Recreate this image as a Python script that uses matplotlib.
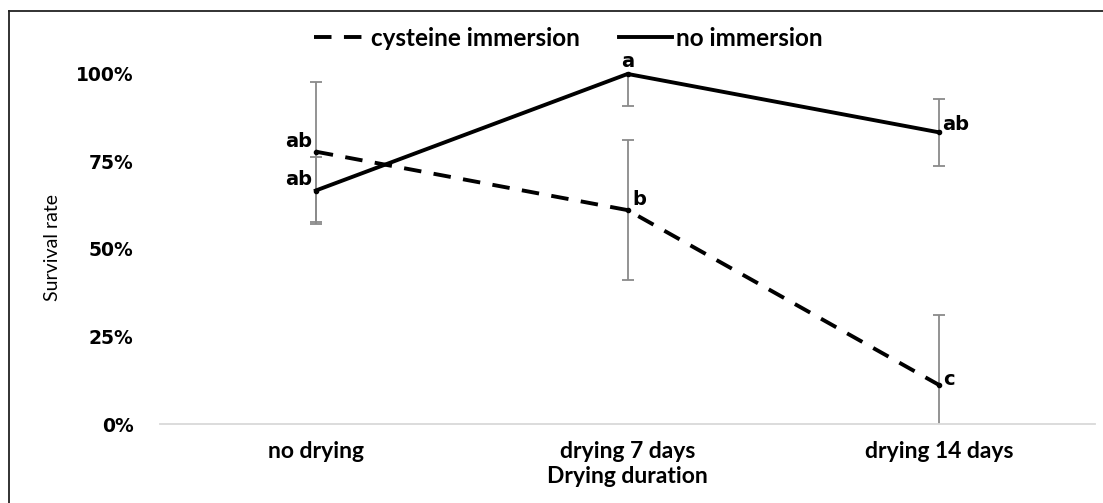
import matplotlib
matplotlib.use("Agg")
import matplotlib.pyplot as plt
from matplotlib.lines import Line2D
from matplotlib.ticker import FuncFormatter

# data
categories = ["no drying", "drying 7 days", "drying 14 days"]
cysteine = [0.778, 0.611, 0.111]
cysteine_err = [0.20, 0.20, 0.20]
no_imm = [0.667, 1.000, 0.833]
no_imm_err = [0.096, 0.093, 0.095]
cysteine_letters = ["ab", "b", "c"]
no_imm_letters = ["ab", "a", "ab"]

LABEL_FONT = "Lato"

fig = plt.figure(figsize=(11.03, 5.03), dpi=100)
ax = fig.add_axes([0.145, 0.157, 0.848, 0.696])
x = list(range(len(categories)))

ax.errorbar(x, cysteine, yerr=cysteine_err, fmt="none", ecolor="#8a8a8a",
            elinewidth=1.3, capsize=4, capthick=1.3, zorder=2)
ax.errorbar(x, no_imm, yerr=no_imm_err, fmt="none", ecolor="#8a8a8a",
            elinewidth=1.3, capsize=4, capthick=1.3, zorder=2)

ax.plot(x, cysteine, color="black", lw=2.8, dashes=(4.5, 3.2),
        label="cysteine immersion", clip_on=False, zorder=3)
ax.plot(x, no_imm, color="black", lw=2.8, label="no immersion",
        clip_on=False, zorder=3)
# small point markers (kept out of the legend)
ax.plot(x, cysteine, ls="none", marker="o", ms=3, color="black", clip_on=False, zorder=4)
ax.plot(x, no_imm, ls="none", marker="o", ms=3, color="black", clip_on=False, zorder=4)

# significance letters
lab = dict(fontsize=14, fontweight="bold", family="DejaVu Sans")
ax.text(x[0] - 0.012, cysteine[0] + 0.003, cysteine_letters[0], ha="right", va="bottom", **lab)
ax.text(x[0] - 0.012, no_imm[0] + 0.003, no_imm_letters[0], ha="right", va="bottom", **lab)
ax.text(x[1] + 0.015, cysteine[1] + 0.003, cysteine_letters[1], ha="left", va="bottom", **lab)
ax.text(x[1], no_imm[1] + 0.008, no_imm_letters[1], ha="center", va="bottom", **lab)
ax.text(x[2] + 0.008, no_imm[2] - 0.005, no_imm_letters[2], ha="left", va="bottom", **lab)
ax.text(x[2] + 0.012, cysteine[2] - 0.01, cysteine_letters[2], ha="left", va="bottom", **lab)

ax.set_xlim(-0.5, 2.5)
ax.set_ylim(0, 1.0)
ax.set_yticks([0, 0.25, 0.5, 0.75, 1.0])
ax.yaxis.set_major_formatter(FuncFormatter(lambda v, _: f"{v * 100:.0f}%"))
ax.set_xticks(x)
ax.set_xticklabels(categories, fontsize=16.5, fontweight="bold", family=LABEL_FONT)
for t in ax.get_yticklabels():
    t.set_fontsize(13.5)
    t.set_fontweight("bold")
    t.set_family("DejaVu Sans")
ax.tick_params(axis="both", length=0)
ax.tick_params(axis="y", pad=19)
ax.tick_params(axis="x", pad=12)

for s in ["top", "right", "left"]:
    ax.spines[s].set_visible(False)
ax.spines["bottom"].set_color("#d9d9d9")
ax.spines["bottom"].set_linewidth(1.3)

ax.set_xlabel("Drying duration", fontsize=16.5, fontweight="bold",
              family=LABEL_FONT, labelpad=3)
fig.text(0.048, 0.507, "Survival rate", rotation=90, ha="center", va="center",
         fontsize=14, family=LABEL_FONT)

leg = fig.legend(loc="center", bbox_to_anchor=(0.515, 0.924), ncol=2, frameon=False,
                 prop={"family": LABEL_FONT, "weight": "bold", "size": 17.5},
                 handlelength=2.2, handletextpad=0.15, columnspacing=1.6,
                 borderpad=0, borderaxespad=0)

# partial outer frame (top and left edges)
fig.add_artist(Line2D([0.008, 1.0], [0.978, 0.978], color="#222222", lw=1.3,
                      transform=fig.transFigure))
fig.add_artist(Line2D([0.008, 0.008], [0.0, 0.978], color="#222222", lw=1.3,
                      transform=fig.transFigure))

fig.savefig("out.png", dpi=100)
